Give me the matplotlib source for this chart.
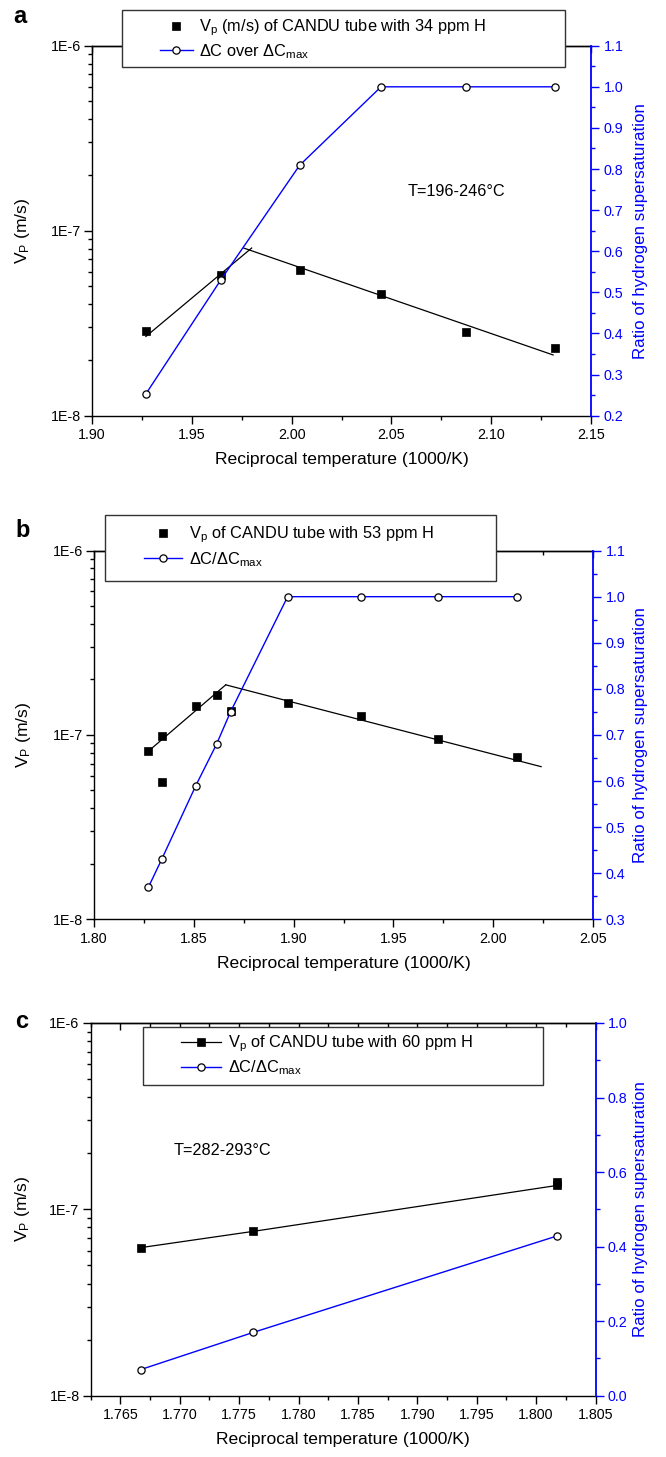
import numpy as np
import matplotlib.pyplot as plt
from matplotlib.ticker import MultipleLocator, LogLocator, FixedLocator, FuncFormatter, NullFormatter
from matplotlib.patches import Rectangle
from matplotlib.lines import Line2D

plt.rcParams['font.family'] = ['Liberation Sans', 'DejaVu Sans']
plt.rcParams['mathtext.fontset'] = 'custom'
plt.rcParams['mathtext.rm'] = 'Liberation Sans'
plt.rcParams['mathtext.it'] = 'Liberation Sans:italic'
plt.rcParams['mathtext.bf'] = 'Liberation Sans:bold'

BLUE = '#0000ff'
W, H = 666, 1457

# ---- panel a: 34 ppm H ----
a_vp_x = [1.927, 1.9645, 2.004, 2.0448, 2.0874, 2.1318]
a_vp_y = [2.86e-8, 5.78e-8, 6.15e-8, 4.53e-8, 2.82e-8, 2.33e-8]
a_dc_x = [1.927, 1.9645, 2.004, 2.0448, 2.0874, 2.1318]
a_dc_y = [0.253, 0.530, 0.809, 1.0, 1.0, 1.0]
a_fit1_x = [1.927, 1.980]
a_fit1_y = [2.68e-8, 8.06e-8]
a_fit2_x = [1.976, 2.131]
a_fit2_y = [8.06e-8, 2.13e-8]

# ---- panel b: 53 ppm H ----
b_vp_x = [1.8273, 1.8339, 1.8339, 1.8510, 1.8614, 1.8684, 1.8970, 1.9338, 1.9721, 2.0117]
b_vp_y = [8.22e-8, 9.87e-8, 5.58e-8, 1.44e-7, 1.65e-7, 1.35e-7, 1.49e-7, 1.26e-7, 9.47e-8, 7.56e-8]
b_dc_x = [1.8273, 1.8339, 1.8510, 1.8614, 1.8684, 1.8970, 1.9338, 1.9721, 2.0117]
b_dc_y = [0.370, 0.430, 0.590, 0.680, 0.750, 1.0, 1.0, 1.0, 1.0]
b_fit1_x = [1.826, 1.866]
b_fit1_y = [7.95e-8, 1.87e-7]
b_fit2_x = [1.866, 2.024]
b_fit2_y = [1.87e-7, 6.73e-8]

# ---- panel c: 60 ppm H ----
c_vp_x = [1.7667, 1.7762, 1.8018, 1.8018]
c_vp_y = [6.23e-8, 7.62e-8, 1.345e-7, 1.40e-7]
c_dc_x = [1.7667, 1.7762, 1.8018]
c_dc_y = [0.07, 0.170, 0.429]

fig = plt.figure(figsize=(W / 100, H / 100), dpi=100)


def make_axes(l, t, r, b):
    return fig.add_axes([l / W, 1 - b / H, (r - l) / W, (b - t) / H])


def setup(ax, ax2, box, xlim, xmaj, xmin, xfmt, rlim, rmaj, rmin):
    l, t, r, b = box
    ax.set_yscale('log')
    ax.set_ylim(1e-8, 1e-6)
    ax.set_xlim(*xlim)
    ax.xaxis.set_major_locator(MultipleLocator(xmaj))
    ax.xaxis.set_minor_locator(MultipleLocator(xmin))
    ax.xaxis.set_major_formatter(FuncFormatter(lambda v, p: xfmt % v))
    ax.yaxis.set_major_locator(FixedLocator([1e-8, 1e-7, 1e-6]))
    ax.yaxis.set_major_formatter(FuncFormatter(lambda v, p: '1E%d' % round(np.log10(v))))
    ax.yaxis.set_minor_locator(LogLocator(base=10, subs=np.arange(2, 10), numticks=20))
    ax.yaxis.set_minor_formatter(NullFormatter())
    ax.tick_params(axis='both', which='both', labelsize=10.3, width=1, direction='out',
                   right=False, top=False)
    ax.tick_params(axis='both', which='major', length=5.5, pad=2.5)
    ax.tick_params(axis='both', which='minor', length=3)
    ax.tick_params(axis='x', which='major', pad=3.5)
    ax.spines['right'].set_visible(False)
    for s in ax.spines.values():
        s.set_linewidth(1)

    top = ax.secondary_xaxis('top')
    top.xaxis.set_major_locator(MultipleLocator(xmaj))
    top.xaxis.set_minor_locator(MultipleLocator(xmin))
    top.tick_params(which='both', direction='in', labeltop=False, width=1)
    top.tick_params(which='major', length=5)
    top.tick_params(which='minor', length=3)
    top.spines['top'].set_linewidth(1)

    ax2.set_ylim(*rlim)
    ax2.yaxis.set_major_locator(MultipleLocator(rmaj))
    ax2.yaxis.set_minor_locator(MultipleLocator(rmin))
    ax2.yaxis.set_major_formatter(FuncFormatter(lambda v, p: '%.1f' % v))
    ax2.tick_params(axis='y', which='both', colors=BLUE, labelsize=10.3, width=1, direction='out')
    ax2.tick_params(axis='y', which='major', length=5.5)
    ax2.tick_params(axis='y', which='minor', length=3)
    for side in ['left', 'top', 'bottom']:
        ax2.spines[side].set_visible(False)
    ax2.spines['right'].set_color(BLUE)
    ax2.spines['right'].set_linewidth(1.3)

    ax.set_xlabel('Reciprocal temperature (1000/K)', fontsize=12.6, labelpad=7)
    ax.set_ylabel(r'$\mathregular{V_P}$ (m/s)', fontsize=12.6)
    ax.yaxis.set_label_coords((32.5 - l) / (r - l), 0.5)
    ax2.set_ylabel('Ratio of hydrogen supersaturation', fontsize=12.2, color=BLUE)
    ax2.yaxis.set_label_coords((633 - l) / (r - l), 0.5)


def add_legend(ax2, handles, labels, box, hx, cy, hl, spacing):
    x0, y0, x1, y1 = box
    ax2.add_patch(Rectangle((x0 / W, 1 - y1 / H), (x1 - x0) / W, (y1 - y0) / H,
                            transform=fig.transFigure, fc='white', ec='#333333',
                            lw=1, zorder=4.5, clip_on=False))
    ax2.legend(handles, labels, loc='center left', bbox_to_anchor=(hx / W, 1 - cy / H),
               bbox_transform=fig.transFigure, frameon=False, fontsize=11.8,
               handlelength=hl, handletextpad=0.4, labelspacing=spacing,
               borderpad=0, borderaxespad=0, numpoints=1)


sq = dict(ls='none', marker='s', color='k', ms=5.5, mew=0.5)
circ_style = dict(color=BLUE, lw=1, marker='o', mfc='white', mec='k', ms=5.2, mew=0.9)

# ---------------- panel a ----------------
box_a = (92, 45.7, 591, 415.7)
ax = make_axes(*box_a)
ax2 = ax.twinx()
ax.plot(a_fit1_x, a_fit1_y, color='k', lw=0.9)
ax.plot(a_fit2_x, a_fit2_y, color='k', lw=0.9)
ax.plot(a_vp_x, a_vp_y, **sq)
ax2.plot(a_dc_x, a_dc_y, **circ_style)
setup(ax, ax2, box_a, (1.90, 2.15), 0.05, 0.025, '%.2f', (0.2, 1.1), 0.1, 0.05)
ax.text(0.633, 0.605, 'T=196-246°C', transform=ax.transAxes, fontsize=11.7,
        ha='left', va='center')
h1 = Line2D([], [], **sq)
h2 = Line2D([], [], **circ_style)
add_legend(ax2, [h1, h2],
           [r'$\mathregular{V_p}$ (m/s) of CANDU tube with 34 ppm H',
            r'ΔC over ΔC$_{\mathregular{max}}$'],
           (122, 10, 565, 66.7), 160, 39.2, 2.0, 0.25)
fig.text(13 / W, 1 - 16.7 / H, 'a', fontsize=17, fontweight='bold', ha='left', va='center')

# ---------------- panel b ----------------
box_b = (94, 550.6, 593, 919.3)
ax = make_axes(*box_b)
ax2 = ax.twinx()
ax.plot(b_fit1_x, b_fit1_y, color='k', lw=0.9)
ax.plot(b_fit2_x, b_fit2_y, color='k', lw=0.9)
ax.plot(b_vp_x, b_vp_y, **sq)
ax2.plot(b_dc_x, b_dc_y, **circ_style)
setup(ax, ax2, box_b, (1.80, 2.05), 0.05, 0.025, '%.2f', (0.3, 1.1), 0.1, 0.05)
h1 = Line2D([], [], **sq)
h2 = Line2D([], [], **circ_style)
add_legend(ax2, [h1, h2],
           [r'$\mathregular{V_p}$ of CANDU tube with 53 ppm H',
            r'ΔC/ΔC$_{\mathregular{max}}$'],
           (105, 515, 496, 580.7), 144.4, 546.5, 2.3, 0.3)
fig.text(15 / W, 1 - 530 / H, 'b', fontsize=17, fontweight='bold', ha='left', va='center')

# ---------------- panel c ----------------
box_c = (90.7, 1023, 595.5, 1395.7)
ax = make_axes(*box_c)
ax2 = ax.twinx()
ax.plot(c_vp_x, c_vp_y, color='k', lw=0.9, marker='s', ms=5.5, mew=0.5)
ax2.plot(c_dc_x, c_dc_y, **circ_style)
setup(ax, ax2, box_c, (1.7625, 1.805), 0.005, 0.0025, '%.3f', (0.0, 1.0), 0.2, 0.1)
ax.text(0.165, 0.657, 'T=282-293°C', transform=ax.transAxes, fontsize=11.7,
        ha='left', va='center')
h1 = Line2D([], [], color='k', lw=0.9, marker='s', ms=5.5, mew=0.5)
h2 = Line2D([], [], **circ_style)
add_legend(ax2, [h1, h2],
           [r'$\mathregular{V_p}$ of CANDU tube with 60 ppm H',
            r'ΔC/ΔC$_{\mathregular{max}}$'],
           (143, 1026.7, 543, 1085), 180.5, 1055.5, 2.5, 0.25)
fig.text(15 / W, 1 - 1022 / H, 'c', fontsize=17, fontweight='bold', ha='left', va='center')

fig.savefig('out.png', dpi=100)
